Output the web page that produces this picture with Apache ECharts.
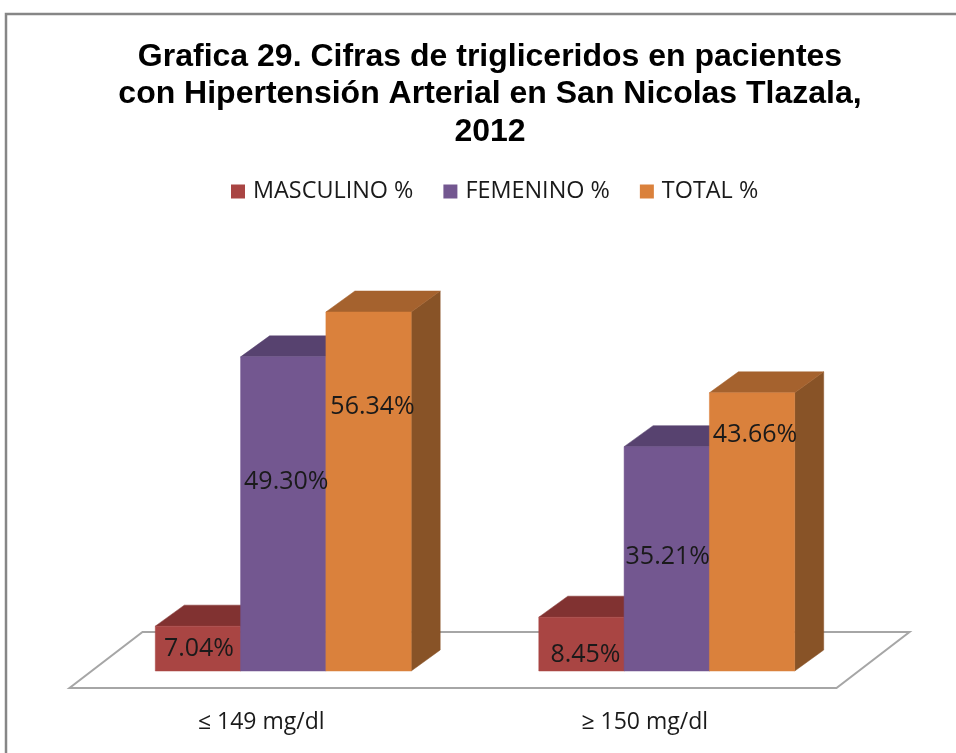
<!DOCTYPE html>
<html>
<head>
<meta charset="utf-8">
<script src="https://cdn.jsdelivr.net/npm/echarts@6/dist/echarts.min.js"></script>
<style>html,body{margin:0;padding:0;background:#fff}#c{width:956px;height:753px}</style>
</head>
<body>
<div id="c"></div>
<script>
const categories = ['≤ 149 mg/dl', '≥ 150 mg/dl'];
const masculino = [7.04, 8.45];
const femenino = [49.30, 35.21];
const total = [56.34, 43.66];
const seriesNames = ['MASCULINO %', 'FEMENINO %', 'TOTAL %'];

// layout constants of the pseudo-3D drawing (pixels)
const AXIS_Y = 688, PX_PER_UNIT = 6.372, Y_MAX = 60;
const FLOOR_SHIFT = [22, -17], DEPTH = [29, -21], FLOOR_DEPTH = [73, -56];
const BAR_W = 85.3;
const LABEL_FONT = 'Open Sans';
const chart = echarts.init(document.getElementById('c'));

function barSeries(name, values, slot, colors, labelDrop, labelDx) {
  return {
    name, type: 'custom', coordinateSystem: 'cartesian2d', z: 3,
    itemStyle: { color: colors.front },
    data: values.map((v, i) => [i, v]),
    encode: { x: 0, y: 1 },
    renderItem(params, api) {
      const i = api.value(0), v = api.value(1);
      const top = api.coord([i, v]), base = api.coord([i, 0]);
      const x0 = top[0] + FLOOR_SHIFT[0] + (slot - 1.5) * BAR_W, x1 = x0 + BAR_W;
      const yT = top[1] + FLOOR_SHIFT[1], yB = base[1] + FLOOR_SHIFT[1];
      const [dx, dy] = DEPTH;
      const poly = (points, fill) => ({ type: 'polygon', shape: { points }, style: { fill, stroke: fill, lineWidth: 0.5 } });
      return {
        type: 'group',
        children: [
          poly([[x1, yT], [x1 + dx, yT + dy], [x1 + dx, yB + dy], [x1, yB]], colors.side),
          poly([[x0, yT], [x0 + dx, yT + dy], [x1 + dx, yT + dy], [x1, yT]], colors.top),
          poly([[x0, yT], [x1, yT], [x1, yB], [x0, yB]], colors.front),
          { type: 'text', z2: 10,
            style: { x: (x0 + x1) / 2 + labelDx[i], y: yT + labelDrop[i],
              text: v.toFixed(2) + '%', fill: '#1a1a1a', font: '25px "' + LABEL_FONT + '"',
              align: 'center', verticalAlign: 'middle' } }
        ]
      };
    }
  };
}

chart.setOption({
  animation: false,
  backgroundColor: '#fff',
  graphic: [{ type: 'rect', z: -10, shape: { x: 6, y: 14, width: 1000, height: 800 },
    style: { fill: '#fff', stroke: '#868686', lineWidth: 2.5 } }],
  title: {
    text: 'Grafica 29. Cifras de trigliceridos en pacientes\ncon Hipertensión Arterial en San Nicolas Tlazala,\n2012',
    left: 485, top: 33, textAlign: 'center',
    textStyle: { fontFamily: 'Liberation Sans', fontWeight: 'bold', fontSize: 32, lineHeight: 37.5, color: '#000' }
  },
  legend: {
    data: seriesNames, left: 226, top: 175, icon: 'rect', itemWidth: 14, itemHeight: 14, itemGap: 30,
    textStyle: { fontFamily: LABEL_FONT, fontSize: 23.4, color: '#1a1a1a', padding: [0, 0, 0, 3] }
  },
  grid: { left: 69.5, width: 767, top: AXIS_Y - PX_PER_UNIT * Y_MAX, height: PX_PER_UNIT * Y_MAX },
  xAxis: { type: 'category', data: categories,
    axisLine: { show: false }, axisTick: { show: false }, splitLine: { show: false },
    axisLabel: { margin: 23, fontFamily: LABEL_FONT, fontSize: 23, color: '#1a1a1a' } },
  yAxis: { type: 'value', min: 0, max: Y_MAX, show: false },
  series: [
    { name: 'Plano', type: 'custom', coordinateSystem: 'cartesian2d', z: 1, silent: true,
      data: [[0, 0]],
      renderItem(params) {
        const r = params.coordSys, yB = r.y + r.height;
        const [dx, dy] = FLOOR_DEPTH;
        return { type: 'polygon',
          shape: { points: [[r.x, yB], [r.x + r.width, yB], [r.x + r.width + dx, yB + dy], [r.x + dx, yB + dy]] },
          style: { fill: '#fff', stroke: '#a6a6a6', lineWidth: 2 } };
      } },
    barSeries(seriesNames[0], masculino, 0, { front: '#A94543', top: '#813231', side: '#7A2F2E' }, [23, 38], [1, 4]),
    barSeries(seriesNames[1], femenino, 1, { front: '#735790', top: '#57426F', side: '#4F3C66' }, [125, 110], [3, 1]),
    barSeries(seriesNames[2], total, 2, { front: '#DA813C', top: '#A5622E', side: '#885327' }, [95, 42], [4, 3])
  ]
});
</script>
</body>
</html>
